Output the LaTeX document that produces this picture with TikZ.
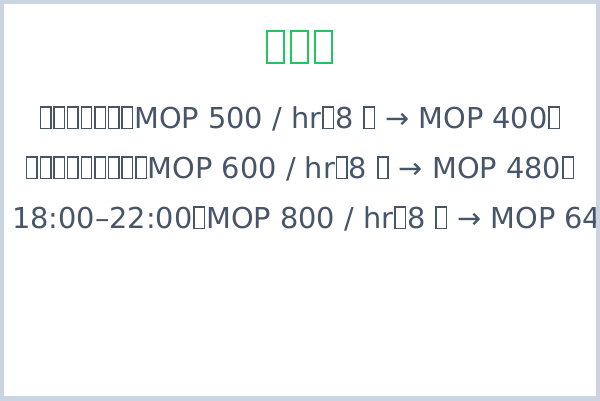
\documentclass[tikz,border=0pt]{standalone}
\usepackage{fontspec}
\setmainfont{DejaVu Sans}
\definecolor{frame}{HTML}{CBD5E1}
\definecolor{titlegreen}{HTML}{22C55E}
\definecolor{slate}{HTML}{475569}
% missing glyph box, as the reference shows it: inner width, height, side gap
\newcommand\tofubox[3]{\kern#3\lower0.035em\hbox{\vrule width0.052em
  \vbox to #2{\hrule height0.052em width#1\vfil\hrule height0.052em width#1}%
  \vrule width0.052em}\kern#3}
\newcommand\tf{\tofubox{0.31em}{0.79em}{0.03em}}
\newcommand\tfbig{\tofubox{0.35em}{0.81em}{0.06em}}
\tikzset{
  title/.style={text=titlegreen, font=\fontsize{42}{42}\selectfont, inner sep=0pt, anchor=base},
  rate/.style={text=slate, font=\fontsize{28.8}{28.8}\selectfont, inner sep=0pt, anchor=base}
}
\begin{document}
\begin{tikzpicture}[x=1pt, y=-1pt]
    \useasboundingbox (0,0) rectangle (600,400);
    \clip (0,0) rectangle (600,400);
    \fill[white] (0,0) rectangle (600,400);

    % Title
    \node[title] (head) at (299.5,62.5) {\tfbig\tfbig\tfbig};

    % Rate lines
    \node[rate] (day) at (300,128) {\tf\tf\tf\tf\tf\tf\tf MOP 500 / hr\tf 8 \tf{} → MOP 400\tf};
    \node[rate] (night) at (300,178) {\tf\tf\tf\tf\tf\tf\tf\tf\tf MOP 600 / hr\tf 8 \tf{} → MOP 480\tf};
    \node[rate, anchor=base west] (peak) at (12,228) {18:00–22:00\tf MOP 800 / hr\tf 8 \tf{} → MOP 640\tf};

    % Frame
    \draw[frame, line width=8pt] (0,0) rectangle (600,400);
\end{tikzpicture}
\end{document}
